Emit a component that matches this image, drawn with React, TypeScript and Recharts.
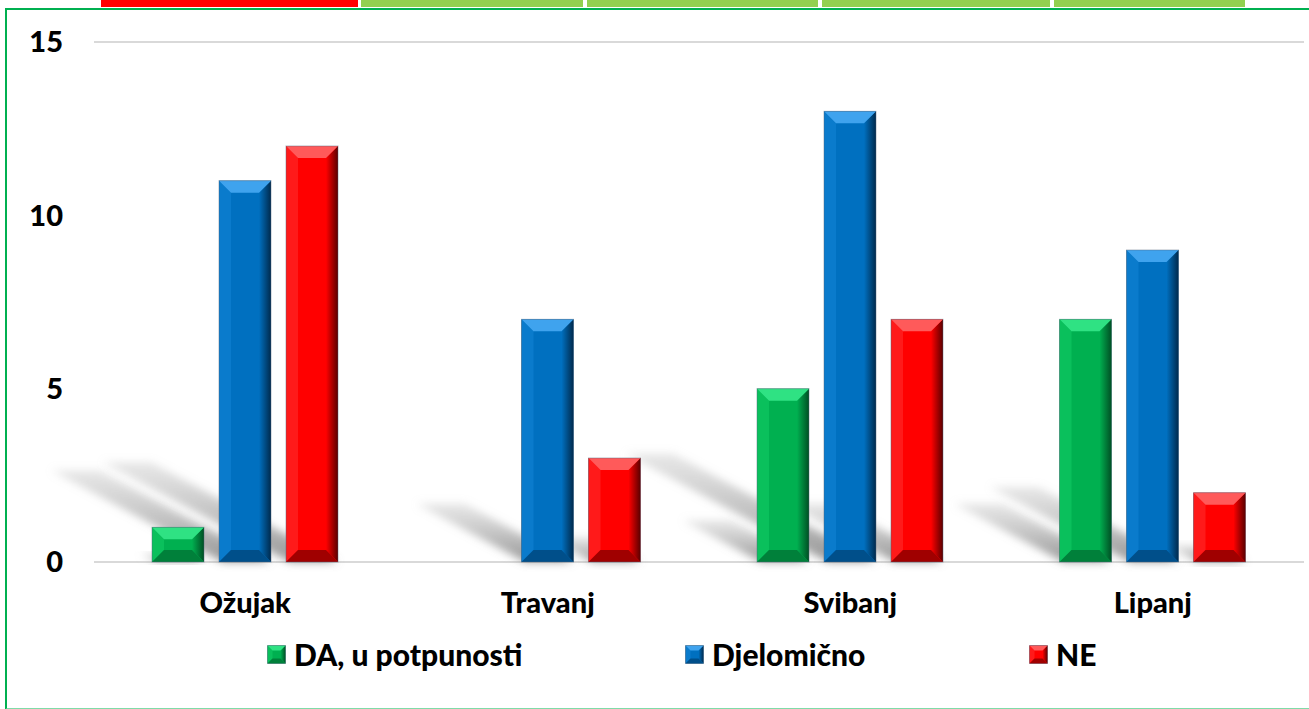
import React from 'react';
import { BarChart, Bar, XAxis, YAxis, CartesianGrid, Legend } from 'recharts';

const categories = ['Ožujak', 'Travanj', 'Svibanj', 'Lipanj'];
const daValues = [1, 0, 5, 7];
const djelomicnoValues = [11, 7, 13, 9];
const neValues = [12, 3, 7, 2];
const yTicks = [0, 5, 10, 15];
const seriesNames = ['DA, u potpunosti', 'Djelomično', 'NE'];

const data = categories.map((name, i) => ({
  name,
  da: daValues[i],
  dj: djelomicnoValues[i],
  ne: neValues[i],
}));

const FONT = "Lato, 'Open Sans', sans-serif";
const W = 1309;
const H = 709;

type Tone = { id: string; main: string; light: string; side: string; dark: string; bottom: string };

const tones: Tone[] = [
  { id: 'g', main: '#00b050', light: '#2fe283', side: '#0ac05c', dark: '#004f24', bottom: '#00803a' },
  { id: 'b', main: '#0070c0', light: '#3fa3ee', side: '#0a7bcc', dark: '#002a4d', bottom: '#004f8a' },
  { id: 'r', main: '#ff0000', light: '#ff5a5a', side: '#ff1a1a', dark: '#5a0000', bottom: '#a00000' },
];

function bevel(x: number, y: number, w: number, h: number, t: Tone, size: number) {
  const b = Math.min(size, h / 2, w / 2);
  const p = (pts: number[][]) => pts.map((q) => q.join(',')).join(' ');
  return (
    <g>
      <rect x={x} y={y} width={w} height={h} fill={t.main} />
      <polygon points={p([[x, y], [x + b, y + b], [x + b, y + h - b], [x, y + h]])} fill={t.side} />
      <polygon points={p([[x + w, y], [x + w - b, y + b], [x + w - b, y + h - b], [x + w, y + h]])} fill={`url(#side-${t.id})`} />
      <polygon points={p([[x, y], [x + w, y], [x + w - b, y + b], [x + b, y + b]])} fill={t.light} />
      <polygon points={p([[x, y + h], [x + w, y + h], [x + w - b, y + h - b], [x + b, y + h - b]])} fill={t.bottom} />
      <rect x={x} y={y} width={w} height={h} fill="none" stroke="rgba(80,100,120,0.45)" strokeWidth={1} />
    </g>
  );
}

const makeShape = (t: Tone) => (props: any) => {
  const { x, y, width, height } = props;
  if (!height || height <= 0) return <g />;
  return bevel(x, y, width, height, t, 12);
};

const shadowShape = (props: any) => {
  const { x, y, width, height } = props;
  if (!height || height <= 0) return <g />;
  const y0 = y + height;
  const dx = 0.45 * height;
  const dy = 0.24 * height;
  const pts = [
    [x + 4, y0],
    [x + width, y0],
    [x + width - dx, y0 - dy],
    [x + 4 - dx, y0 - dy],
  ]
    .map((q) => q.join(','))
    .join(' ');
  return <polygon points={pts} fill="url(#shadowGrad)" filter="url(#shadowBlur)" />;
};

const legendWidths = [418, 344, 200];

const renderLegend = () => (
  <div
    style={{
      display: 'flex',
      alignItems: 'center',
      height: 60,
      paddingLeft: 267,
      fontFamily: FONT,
      fontWeight: 900,
      fontSize: 30,
      color: '#000',
    }}
  >
    {seriesNames.map((n, i) => (
      <div key={n} style={{ display: 'flex', alignItems: 'center', width: legendWidths[i] }}>
        <svg width={19} height={19} style={{ marginRight: 8 }}>
          {bevel(0.5, 0.5, 18, 18, tones[i], 5)}
        </svg>
        <span>{n}</span>
      </div>
    ))}
  </div>
);

const common = {
  width: W,
  height: H,
  data,
  barSize: 52,
  barGap: 15,
};

export default function App() {
  const tickStyle = { fill: '#000', fontSize: 29, fontWeight: 900, fontFamily: FONT };
  return (
    <div style={{ position: 'fixed', left: 0, top: 0, width: W, height: H, overflow: 'hidden', background: '#fff' }}>
      <svg width={0} height={0} style={{ position: 'absolute' }}>
        <defs>
          {tones.map((t) => (
            <linearGradient key={t.id} id={`side-${t.id}`} x1="0" y1="0" x2="1" y2="0">
              <stop offset="0%" stopColor={t.main} />
              <stop offset="100%" stopColor={t.dark} />
            </linearGradient>
          ))}
          <linearGradient id="shadowGrad" x1="0" y1="1" x2="0" y2="0">
            <stop offset="0%" stopColor="#7a7a7a" stopOpacity={0.8} />
            <stop offset="100%" stopColor="#b0b0b0" stopOpacity={0.3} />
          </linearGradient>
          <filter id="shadowBlur" x="-30%" y="-30%" width="160%" height="160%">
            <feGaussianBlur stdDeviation="4" />
          </filter>
        </defs>
      </svg>

      {/* top decoration strips */}
      {[
        [101, 358, '#ff0000'],
        [361, 583, '#92d050'],
        [587, 818, '#92d050'],
        [822, 1050, '#92d050'],
        [1054, 1245, '#92d050'],
      ].map(([a, b, c]) => (
        <div key={a as number} style={{ position: 'absolute', left: a as number, top: 0, width: (b as number) - (a as number), height: 7, background: c as string }} />
      ))}

      {/* frame */}
      <div style={{ position: 'absolute', left: 5, top: 8, width: 1320, height: 698, borderTop: '2px solid #00b050', borderLeft: '2px solid #00b050', borderBottom: '2px solid #7fdca8' }} />

      {/* background: grid and shadows */}
      <div style={{ position: 'absolute', left: 0, top: 0 }}>
        <BarChart {...common} margin={{ top: 42, right: 5, left: 0, bottom: 85 }}>
          <CartesianGrid vertical={false} stroke="#d9d9d9" strokeWidth={2} />
          <XAxis dataKey="name" height={62} tick={false} axisLine={false} tickLine={false} />
          <YAxis domain={[0, 15]} ticks={yTicks} width={94} tick={false} axisLine={false} tickLine={false} />
          <Bar dataKey="da" shape={shadowShape} isAnimationActive={false} />
          <Bar dataKey="dj" shape={shadowShape} isAnimationActive={false} />
          <Bar dataKey="ne" shape={shadowShape} isAnimationActive={false} />
        </BarChart>
      </div>

      {/* foreground: bars, axes, legend */}
      <div style={{ position: 'absolute', left: 0, top: 0 }}>
        <BarChart {...common} margin={{ top: 42, right: 5, left: 0, bottom: 25 }}>
          <XAxis
            dataKey="name"
            height={62}
            axisLine={false}
            tickLine={false}
            tickSize={0}
            tickMargin={30}
            tick={tickStyle}
          />
          <YAxis
            domain={[0, 15]}
            ticks={yTicks}
            width={94}
            axisLine={false}
            tickLine={false}
            tickSize={0}
            tickMargin={31}
            tick={tickStyle}
          />
          <Legend verticalAlign="bottom" height={60} content={renderLegend} />
          <Bar dataKey="da" name={seriesNames[0]} shape={makeShape(tones[0])} isAnimationActive={false} />
          <Bar dataKey="dj" name={seriesNames[1]} shape={makeShape(tones[1])} isAnimationActive={false} />
          <Bar dataKey="ne" name={seriesNames[2]} shape={makeShape(tones[2])} isAnimationActive={false} />
        </BarChart>
      </div>
    </div>
  );
}
